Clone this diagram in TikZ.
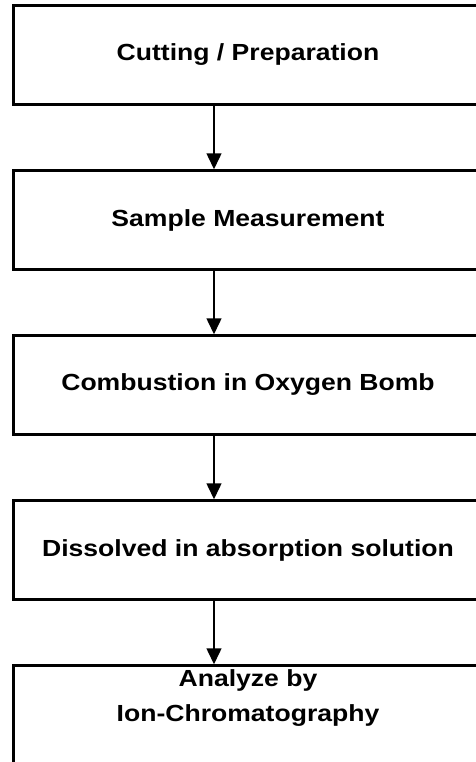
\documentclass[tikz,border=0pt]{standalone}
\usepackage{fontspec}
\usetikzlibrary{positioning}
\usetikzlibrary{arrows.meta}
\newfontfamily\boxfont[FakeStretch=1.14]{Liberation Sans}
\tikzset{
    procbox/.style={draw,line width=3bp,minimum width=470bp,minimum height=98.5bp,
        inner sep=0pt,align=center,font=\boxfont\bfseries\fontsize{23.3bp}{35bp}\selectfont},
    flowarr/.style={line width=1.5bp,-{Triangle[width=15bp,length=16bp]}}
}

\begin{document}
\begin{tikzpicture}[line cap=butt,line join=miter,node distance=63.5bp]
\useasboundingbox[clip] (0,0) rectangle (476bp,-762bp);
\coordinate (ax) at (214bp,0);

\node[procbox] (C) at (248bp,-55bp) {Cutting / Preparation};
\node[procbox,below=of C] (S) {Sample Measurement};
\node[procbox,below=of S] (B) {Combustion in Oxygen Bomb};
\node[procbox,below=of B] (D) {Dissolved in absorption solution};
% text sits near the top of the last box
\node[procbox,below=of D,text height=52bp,text depth=38.5bp] (A) {Analyze by\\Ion-Chromatography};

\foreach \a/\b in {C/S,S/B,B/D,D/A}
    \draw[flowarr] (\a.south -| ax) -- (\b.north -| ax);
\end{tikzpicture}
\end{document}
